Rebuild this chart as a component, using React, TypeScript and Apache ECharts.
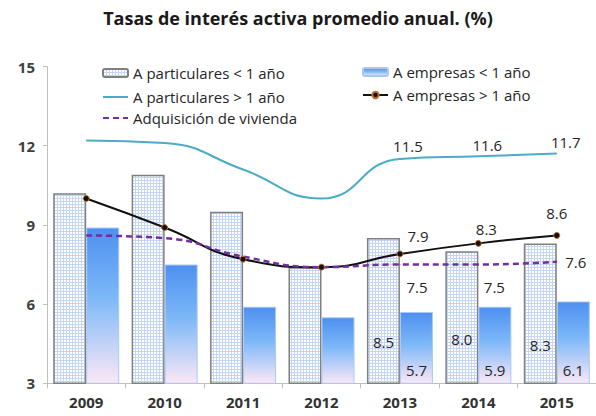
import React, { useEffect, useRef } from 'react';
import * as echarts from 'echarts';

const years = ['2009', '2010', '2011', '2012', '2013', '2014', '2015'];
const particularesCorto = [10.2, 10.9, 9.5, 7.4, 8.5, 8.0, 8.3];
const empresasCorto = [8.9, 7.5, 5.9, 5.5, 5.7, 5.9, 6.1];
const particularesLargo = [12.2, 12.1, 11.1, 10.0, 11.5, 11.6, 11.7];
const empresasLargo = [10.0, 8.9, 7.7, 7.4, 7.9, 8.3, 8.6];
const vivienda = [8.6, 8.5, 7.8, 7.4, 7.5, 7.5, 7.6];
const seriesNames = [
  'A particulares < 1 año',
  'A empresas < 1 año',
  'A particulares > 1 año',
  'A empresas > 1 año',
  'Adquisición de vivienda',
];
const title = 'Tasas de interés activa promedio anual. (%)';
const labeledFrom = 4;

const FONT = '"Open Sans", "Noto Sans", sans-serif';
const TXT = '#262626';

// label placement styles (offsets relative to the point)
const partLargoOffsets = [[8, -13], [9, -11], [9, -12]];
const empLargoOffsets = [[18, -18], [8, -14], [0, -22]];
const viviendaOffsets = [[17, 22], [16, 22], [19, 0]];
const partCortoDist = [35, 38, 32];

function makePattern() {
  const c = document.createElement('canvas');
  c.width = 3;
  c.height = 3;
  const ctx = c.getContext('2d')!;
  ctx.fillStyle = '#c4d6f4';
  ctx.fillRect(0, 0, 3, 3);
  ctx.fillStyle = '#ffffff';
  ctx.fillRect(1, 1, 2, 2);
  return { image: c, repeat: 'repeat', imageWidth: 3, imageHeight: 3 };
}

const fmt = (p: any) => Number(p.value).toFixed(1);

function lineData(vals: number[], offsets: number[][], sym: string, size: number) {
  return vals.map((v, i) =>
    i >= labeledFrom
      ? {
          value: v,
          symbol: sym,
          symbolSize: size,
          label: {
            show: true,
            position: 'inside',
            offset: offsets[i - labeledFrom],
            formatter: fmt,
            fontFamily: FONT,
            fontSize: 15,
            color: TXT,
          },
        }
      : v
  );
}

export default function App() {
  const ref = useRef<HTMLDivElement>(null);
  useEffect(() => {
    if (!ref.current) return;
    const chart = echarts.init(ref.current, null, { renderer: 'svg' });
    const pattern = makePattern();
    const legendBase = {
      padding: 0,
      itemWidth: 25,
      itemHeight: 8,
      selectedMode: false,
      textStyle: { fontFamily: FONT, fontSize: 15, color: TXT, lineHeight: 18 },
    };
    const noDot = { color: 'rgba(0,0,0,0)', borderColor: 'rgba(0,0,0,0)', borderWidth: 0 };
    const option: any = {
      animation: false,
      backgroundColor: '#ffffff',
      title: {
        text: title,
        left: 'center',
        top: 4,
        textStyle: { fontFamily: FONT, fontSize: 18, fontWeight: 'bold', color: '#1a1a1a' },
      },
      legend: [
        { ...legendBase, data: [seriesNames[0]], left: 102, top: 64 },
        { ...legendBase, data: [seriesNames[1]], left: 362, top: 63 },
        { ...legendBase, data: [seriesNames[2]], left: 102, top: 88, itemStyle: noDot },
        { ...legendBase, data: [seriesNames[3]], left: 362, top: 86 },
        { ...legendBase, data: [seriesNames[4]], left: 102, top: 109, itemStyle: noDot },
      ],
      grid: { left: 47, right: -6, top: 66.5, bottom: 32.7, containLabel: false },
      xAxis: {
        type: 'category',
        data: years,
        axisLine: { lineStyle: { color: '#bfbfbf' } },
        axisTick: { show: true, length: 5, lineStyle: { color: '#bfbfbf' } },
        axisLabel: { fontFamily: FONT, fontSize: 15, fontWeight: 'bold', color: '#333', margin: 11 },
      },
      yAxis: {
        type: 'value',
        min: 3,
        max: 15,
        interval: 3,
        axisLine: { show: true, lineStyle: { color: '#bfbfbf' } },
        axisTick: { show: true, length: 4, lineStyle: { color: '#bfbfbf' } },
        splitLine: { show: false },
        axisLabel: { fontFamily: FONT, fontSize: 15, fontWeight: 'bold', color: '#404040', margin: 12 },
      },
      series: [
        {
          name: seriesNames[0],
          type: 'bar',
          barWidth: 33,
          barGap: '0%',
          itemStyle: { color: pattern, borderColor: '#808080', borderWidth: 1.5 },
          data: particularesCorto.map((v, i) =>
            i >= labeledFrom
              ? {
                  value: v,
                  label: {
                    show: true,
                    position: 'insideBottom',
                    distance: partCortoDist[i - labeledFrom],
                    formatter: fmt,
                    fontFamily: FONT,
                    fontSize: 15,
                    color: TXT,
                  },
                }
              : v
          ),
        },
        {
          name: seriesNames[1],
          type: 'bar',
          barWidth: 33,
          barGap: '0%',
          itemStyle: {
            color: new echarts.graphic.LinearGradient(0, 0, 0, 1, [
              { offset: 0, color: '#4d90f0' },
              { offset: 0.45, color: '#7db8f8' },
              { offset: 1, color: '#fce8f6' },
            ]),
            borderColor: '#a9c9f2',
            borderWidth: 1,
          },
          data: empresasCorto.map((v, i) =>
            i >= labeledFrom
              ? {
                  value: v,
                  label: {
                    show: true,
                    position: 'insideBottom',
                    distance: 6,
                    formatter: fmt,
                    fontFamily: FONT,
                    fontSize: 15,
                    color: TXT,
                  },
                }
              : v
          ),
        },
        {
          name: seriesNames[2],
          type: 'line',
          smooth: true,
          symbol: 'none',
          itemStyle: { color: '#4bacc6' },
          lineStyle: { color: '#4bacc6', width: 2 },
          data: lineData(particularesLargo, partLargoOffsets, 'circle', 1),
        },
        {
          name: seriesNames[3],
          type: 'line',
          smooth: true,
          symbol: 'circle',
          symbolSize: 6,
          itemStyle: { color: '#111111', borderColor: '#c0702a', borderWidth: 1 },
          lineStyle: { color: '#111111', width: 2 },
          data: lineData(empresasLargo, empLargoOffsets, 'circle', 6),
        },
        {
          name: seriesNames[4],
          type: 'line',
          smooth: true,
          symbol: 'none',
          itemStyle: { color: '#7030a0' },
          lineStyle: { color: '#7030a0', width: 2.5, type: [6, 4] },
          data: lineData(vivienda, viviendaOffsets, 'circle', 1),
        },
      ],
    };
    chart.setOption(option);
    return () => chart.dispose();
  }, []);
  return (
    <div
      ref={ref}
      style={{ position: 'absolute', left: 0, top: 0, width: 596, height: 416 }}
    />
  );
}
